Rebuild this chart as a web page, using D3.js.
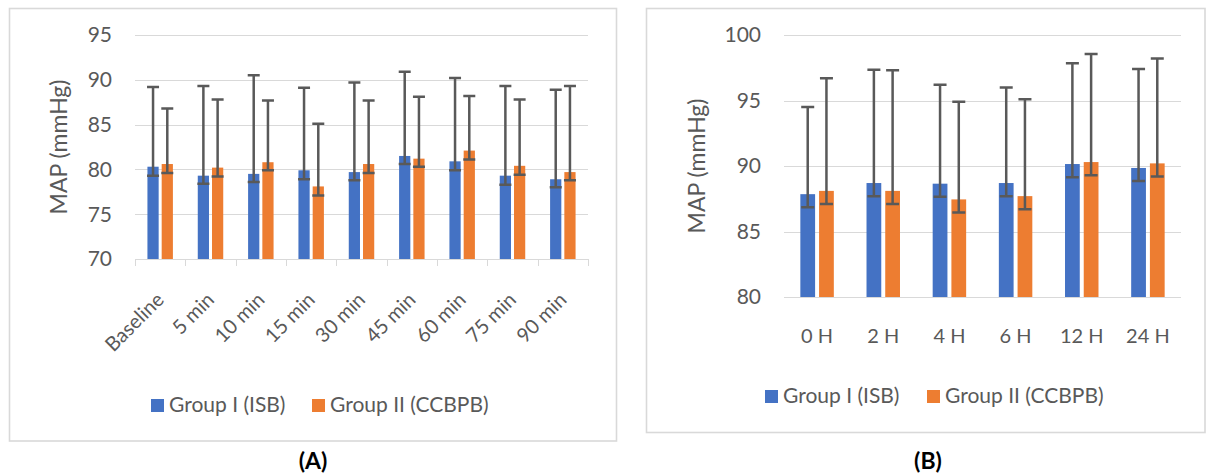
<!DOCTYPE html>
<html>
<head>
<meta charset="utf-8">
<script src="https://cdn.jsdelivr.net/npm/d3@7"></script>
<style>
    body { margin: 0; background: #fff; }
    svg { display: block; font-family: Lato, "Open Sans", sans-serif; }
    .tick-label, .cat-label, .axis-title, .legend-label { fill: #595959; }
    .grid { stroke: #d9d9d9; stroke-width: 1; }
    .frame { fill: none; stroke: #d9d9d9; stroke-width: 1.6; }
    .err { stroke: #595959; stroke-width: 2.5; fill: none; }
    .panel-title { font-weight: bold; fill: #000; }
</style>
</head>
<body>
<svg width="1207" height="476"></svg>
<script>
// ---- data ----
const seriesNames = ["Group I (ISB)", "Group II (CCBPB)"];
const seriesColors = ["#4472C4", "#ED7D31"];

// (A) intra-operative
const catsA = ["Baseline", "5 min", "10 min", "15 min", "30 min", "45 min", "60 min", "75 min", "90 min"];
const isbA = [80.3, 79.3, 79.5, 79.9, 79.7, 81.5, 80.9, 79.3, 78.9];
const ccbpbA = [80.6, 80.2, 80.8, 78.1, 80.6, 81.2, 82.1, 80.4, 79.7];
const isbAPlus = [8.9, 10.0, 11.0, 9.2, 10.0, 9.4, 9.3, 10.0, 10.0];
const ccbpbAPlus = [6.2, 7.6, 6.9, 7.0, 7.1, 6.9, 6.1, 7.4, 9.6];
const isbAMinus = [1.0, 0.9, 0.9, 1.0, 0.9, 0.9, 1.0, 1.0, 0.9];
const ccbpbAMinus = [1.0, 1.0, 0.9, 1.0, 1.0, 0.9, 1.0, 1.0, 0.9];
const ticksA = [70, 75, 80, 85, 90, 95];

// (B) post-operative
const catsB = ["0 H", "2 H", "4 H", "6 H", "12 H", "24 H"];
const isbB = [87.85, 88.7, 88.65, 88.7, 90.15, 89.85];
const ccbpbB = [88.1, 88.1, 87.45, 87.7, 90.3, 90.2];
const isbBPlus = [6.65, 8.65, 7.55, 7.3, 7.7, 7.55];
const ccbpbBPlus = [8.6, 9.2, 7.45, 7.4, 8.25, 8.0];
const isbBMinus = [1.0, 1.0, 1.0, 1.0, 1.0, 1.0];
const ccbpbBMinus = [1.0, 1.0, 1.0, 1.0, 1.0, 1.0];
const ticksB = [80, 85, 90, 95, 100];

const svg = d3.select("svg");

function drawPanel(p) {
    const g = svg.append("g");

    g.append("rect")
        .attr("class", "frame")
        .attr("x", p.frame[0]).attr("y", p.frame[1])
        .attr("width", p.frame[2] - p.frame[0])
        .attr("height", p.frame[3] - p.frame[1]);

    const x = d3.scaleBand()
        .domain(p.cats)
        .range([p.left, p.right])
        .padding(0);

    const y = d3.scaleLinear()
        .domain([p.ticks[0], p.ticks[p.ticks.length - 1]])
        .range([p.bottom, p.top]);

    const bw = x.bandwidth();
    const barW = bw * 0.223;
    const gap = bw * 0.06;
    const offs = [-(gap / 2 + barW / 2), gap / 2 + barW / 2];

    // gridlines (the lowest one is the category axis)
    g.selectAll(".grid")
        .data(p.ticks)
        .enter().append("line")
        .attr("class", "grid")
        .attr("x1", p.left).attr("x2", p.right)
        .attr("y1", (d) => Math.round(y(d)) + 0.5)
        .attr("y2", (d) => Math.round(y(d)) + 0.5);

    g.selectAll(".tick-label")
        .data(p.ticks)
        .enter().append("text")
        .attr("class", "tick-label")
        .attr("x", p.left - 23)
        .attr("y", (d) => y(d))
        .attr("dy", "0.35em")
        .attr("text-anchor", "end")
        .style("font-size", "21px")
        .text((d) => d);

    if (p.tickMarks) {
        g.selectAll(".cat-tick")
            .data(d3.range(p.cats.length + 1))
            .enter().append("line")
            .attr("class", "grid")
            .attr("x1", (i) => Math.round(p.left + i * bw) + 0.5)
            .attr("x2", (i) => Math.round(p.left + i * bw) + 0.5)
            .attr("y1", p.bottom)
            .attr("y2", p.bottom + 7);
    }

    // bars + error bars
    p.series.forEach((s, si) => {
        const rows = p.cats.map((c, i) => ({
            cat: c, v: s.values[i], hi: s.values[i] + s.plus[i], lo: s.values[i] - s.minus[i]
        }));
        const cx = (d) => x(d.cat) + bw / 2 + offs[si];

        g.selectAll(".bar-" + si)
            .data(rows)
            .enter().append("rect")
            .attr("class", "bar-" + si)
            .attr("x", (d) => cx(d) - barW / 2)
            .attr("width", barW)
            .attr("y", (d) => y(d.v))
            .attr("height", (d) => p.bottom - y(d.v))
            .style("fill", seriesColors[si]);

        const cap = p.capW / 2;
        g.selectAll(".err-" + si)
            .data(rows)
            .enter().append("path")
            .attr("class", "err")
            .attr("d", (d) => {
                const xc = cx(d);
                return "M" + xc + "," + y(d.hi) + "V" + y(d.lo) +
                    "M" + (xc - cap) + "," + y(d.hi) + "H" + (xc + cap) +
                    "M" + (xc - cap) + "," + y(d.lo) + "H" + (xc + cap);
            });
    });

    // category labels
    const lab = g.selectAll(".cat-label")
        .data(p.cats)
        .enter().append("text")
        .attr("class", "cat-label")
        .style("font-size", p.catSize + "px")
        .text((d) => d);
    if (p.rotate) {
        lab.attr("text-anchor", "end")
            .attr("transform", (d) => "translate(" + (x(d) + bw / 2 + 5) + "," + p.catY + ") rotate(-45)");
    } else {
        lab.attr("text-anchor", "middle")
            .attr("x", (d) => x(d) + bw / 2)
            .attr("y", p.catY);
    }

    // axis title
    g.append("text")
        .attr("class", "axis-title")
        .attr("text-anchor", "middle")
        .attr("dominant-baseline", "central")
        .attr("transform", "translate(" + p.titleX + "," + (p.top + p.bottom) / 2 + ") rotate(-90)")
        .style("font-size", "23px")
        .text("MAP (mmHg)");

    // legend
    const leg = g.selectAll(".legend")
        .data(seriesNames)
        .enter().append("g")
        .attr("class", "legend")
        .attr("transform", (d, i) => "translate(" + p.legendX[i] + "," + p.legendY + ")");
    leg.append("rect")
        .attr("x", 0).attr("y", -13)
        .attr("width", 13).attr("height", 13)
        .style("fill", (d, i) => seriesColors[i]);
    leg.append("text")
        .attr("class", "legend-label")
        .attr("x", 18).attr("y", 0)
        .style("font-size", "21px")
        .text((d) => d);

    svg.append("text")
        .attr("class", "panel-title")
        .attr("x", p.labelX).attr("y", 469)
        .attr("text-anchor", "middle")
        .style("font-size", "23px")
        .text(p.label);
}

drawPanel({
    cats: catsA, ticks: ticksA,
    series: [
        { values: isbA, plus: isbAPlus, minus: isbAMinus },
        { values: ccbpbA, plus: ccbpbAPlus, minus: ccbpbAMinus }
    ],
    frame: [9.5, 8.5, 616.5, 441],
    left: 135, right: 588, top: 35, bottom: 259,
    capW: 12, tickMarks: true, rotate: true, catY: 301, catSize: 20,
    titleX: 58, legendX: [151, 312], legendY: 412,
    label: "(A)", labelX: 313
});

drawPanel({
    cats: catsB, ticks: ticksB,
    series: [
        { values: isbB, plus: isbBPlus, minus: isbBMinus },
        { values: ccbpbB, plus: ccbpbBPlus, minus: ccbpbBMinus }
    ],
    frame: [646.5, 8.5, 1205, 432.5],
    left: 784, right: 1181, top: 35, bottom: 297,
    capW: 13, tickMarks: false, rotate: false, catY: 343, catSize: 20,
    titleX: 696, legendX: [765, 927], legendY: 403,
    label: "(B)", labelX: 928
});
</script>
</body>
</html>
